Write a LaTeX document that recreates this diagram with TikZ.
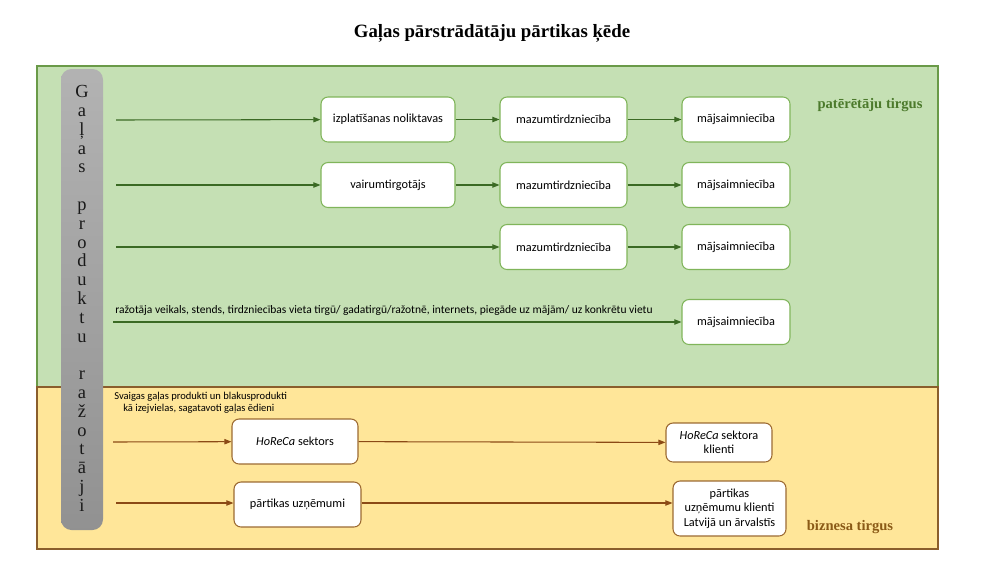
\documentclass[tikz,border=0pt]{standalone}
\usepackage{fontspec}
\setmainfont{Liberation Serif}
\newfontfamily\boxfont{Carlito}
\usetikzlibrary{arrows.meta}

\definecolor{consfill}{HTML}{C5E0B4}
\definecolor{consline}{HTML}{6A9A48}
\definecolor{consbox}{HTML}{80B55A}
\definecolor{consarrow}{HTML}{3B6A24}
\definecolor{constext}{HTML}{4C7A2C}
\definecolor{bizfill}{HTML}{FFE699}
\definecolor{bizline}{HTML}{8A5E2C}
\definecolor{bizbox}{HTML}{9C6A32}
\definecolor{bizarrow}{HTML}{8B4A16}
\definecolor{biztext}{HTML}{8A5A16}

\tikzset{
  chainbox/.style={draw=consbox, fill=white, rounded corners=4pt, line width=0.6pt,
    minimum height=0.9cm, align=center, font=\boxfont\fontsize{7}{8}\selectfont},
  bizbox/.style={chainbox, draw=bizbox},
  consflow/.style={-{Triangle[length=4pt,width=3pt]}, draw=consarrow, line width=0.6pt},
  bizflow/.style={-{Triangle[length=4pt,width=3pt]}, draw=bizarrow, line width=0.6pt},
  barletter/.style={font=\fontsize{10.5}{10.5}\selectfont, text=black!90, inner sep=0pt}
}

\begin{document}
\begin{tikzpicture}[x=0.02cm, y=-0.02cm]
    \useasboundingbox (0,0) rectangle (1000,562);
    % market areas
    \draw[fill=consfill, draw=consline, line width=0.8pt] (37,66) rectangle (938,387);
    \draw[fill=bizfill, draw=bizline, line width=0.8pt] (37,387) rectangle (938,549);
    \node[font=\bfseries\fontsize{10.7}{12}\selectfont] (title) at (492,33) {Gaļas pārstrādātāju pārtikas ķēde};
    \node[font=\bfseries\fontsize{8.3}{9}\selectfont, text=constext] (cons) at (870,105) {patērētāju tirgus};
    \node[font=\bfseries\fontsize{8.3}{9}\selectfont, text=biztext] (biz) at (850,527) {biznesa tirgus};

    % producers bar
    \shade[top color=black!30, bottom color=black!43, rounded corners=6pt] (61,69) rectangle (103,530);
    \foreach \ch [count=\i] in {G,a,ļ,a,s,{},p,r,o,d,u,k,t,u,{},r,a,ž,o,t,ā,j,i}
      \node[barletter] (l\i) at (82,{94+(\i-1)*18.8}) {\strut\ch};

    % consumer market chains
    \node[chainbox, minimum width=2.68cm] (izp)  at (388,119.5) {izplatīšanas noliktavas};
    \node[chainbox, minimum width=2.54cm] (mazA) at (563.5,119.5) {mazumtirdzniecība};
    \node[chainbox, minimum width=2.16cm] (majA) at (736,119.5) {mājsaimniecība};
    \node[chainbox, minimum width=2.68cm] (vair) at (388,185) {vairumtirgotājs};
    \node[chainbox, minimum width=2.54cm] (mazB) at (563.5,185) {mazumtirdzniecība};
    \node[chainbox, minimum width=2.16cm] (majB) at (736,185) {mājsaimniecība};
    \node[chainbox, minimum width=2.54cm] (mazC) at (563.5,247) {mazumtirdzniecība};
    \node[chainbox, minimum width=2.16cm] (majC) at (736,247) {mājsaimniecība};
    \node[chainbox, minimum width=2.16cm] (majD) at (736,322) {mājsaimniecība};

    \coordinate (s1) at (116,120);
    \coordinate (s2) at (116,185);
    \coordinate (s3) at (116,247);
    \coordinate (s4) at (113,322);
    \draw[consflow] (s1) -- (izp);
    \draw[consflow] (izp) -- (mazA);
    \draw[consflow] (mazA) -- (majA);
    \draw[consflow] (s2) -- (vair);
    \draw[consflow] (vair) -- (mazB);
    \draw[consflow] (mazB) -- (majB);
    \draw[consflow] (s3) -- (mazC);
    \draw[consflow] (mazC) -- (majC);
    \draw[consflow] (s4) -- (majD);
    \node[anchor=base west, inner sep=0pt, font=\boxfont\fontsize{6.55}{7}\selectfont] (direct) at (115,313)
      {ražotāja veikals, stends, tirdzniecības vieta tirgū/ gadatirgū/ražotnē, internets, piegāde uz mājām/ uz konkrētu vietu};

    % business market chains
    \node[anchor=north west, inner sep=0pt, align=left, font=\boxfont\fontsize{6}{7}\selectfont] (goods) at (114,392)
      {Svaigas gaļas produkti un blakusprodukti\\\hspace*{1.8mm}kā izejvielas, sagatavoti gaļas ēdieni};
    \node[bizbox, minimum width=2.52cm] (horeca) at (295,441.5) {\textit{HoReCa} sektors};
    \node[bizbox, minimum width=2.12cm, minimum height=0.78cm, font=\boxfont\fontsize{7}{8.2}\selectfont] (hkl) at (719,442.5) {\textit{HoReCa} sektora\\klienti};
    \node[bizbox, minimum width=2.54cm] (pu) at (297.5,504.5) {pārtikas uzņēmumi};
    \node[bizbox, minimum width=2.26cm, minimum height=1.1cm, font=\boxfont\fontsize{7}{8.2}\selectfont] (pkl) at (729.5,508.5) {pārtikas\\uzņēmumu klienti\\Latvijā un ārvalstīs};

    \coordinate (s5) at (113,442);
    \coordinate (s6) at (116,503);
    \draw[bizflow] (s5) -- (horeca);
    \draw[bizflow] (horeca) -- (hkl);
    \draw[bizflow] (s6) -- (pu.west |- s6);
    \draw[bizflow] (pu.east |- s6) -- (pkl.west |- s6);
  \end{tikzpicture}
\end{document}
